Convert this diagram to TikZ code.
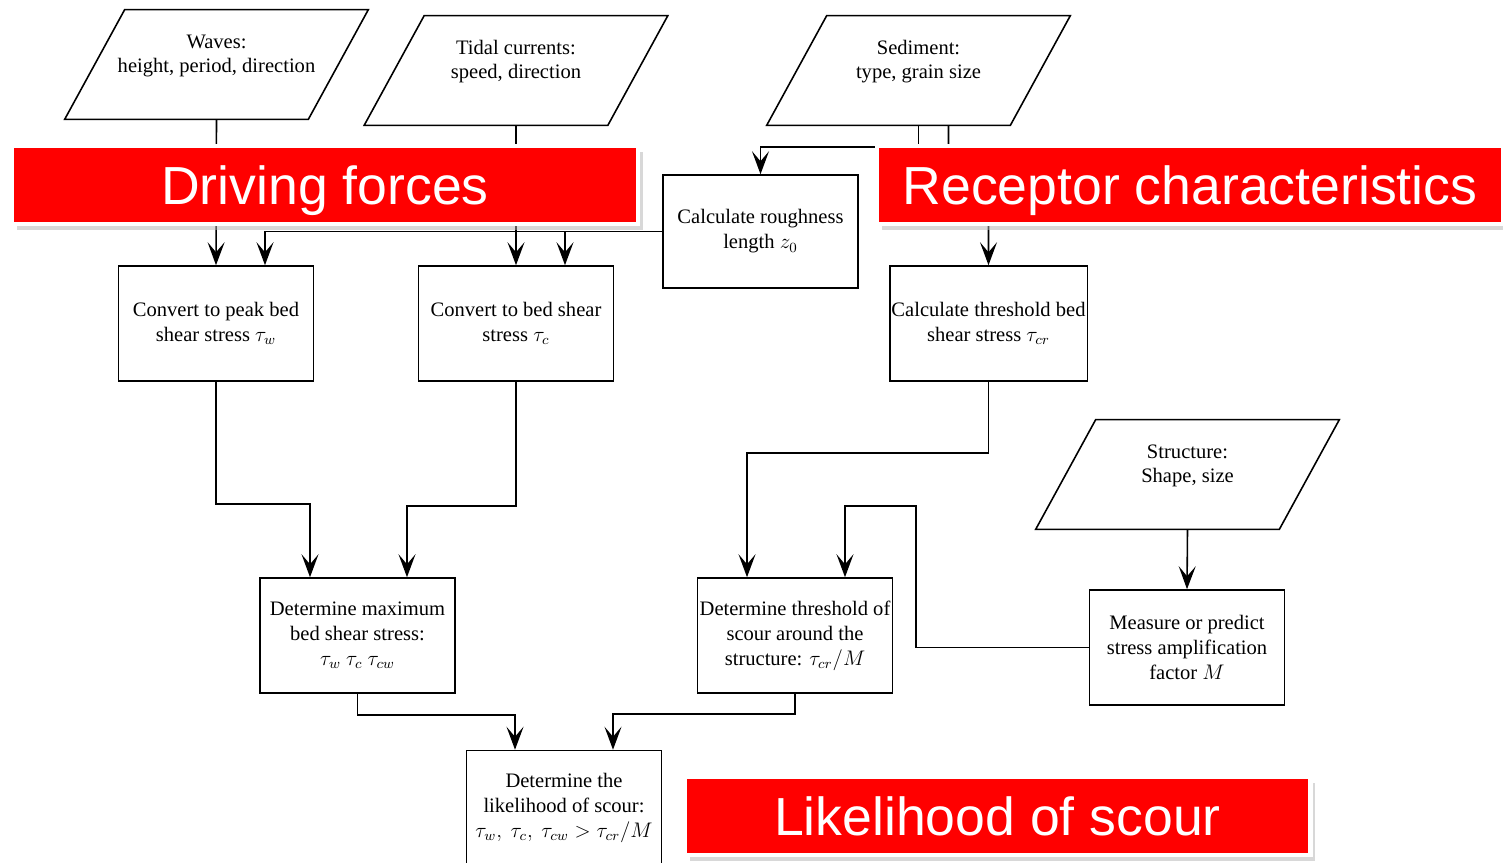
\documentclass[tikz,border=0pt]{standalone}
\usepackage{fontspec}
\setmainfont{Liberation Serif}
\newfontfamily\bannerfont{Liberation Sans}
\usetikzlibrary{arrows.meta,shadows}

\tikzset{
  box/.style={draw, line width=0.9pt, minimum width=3.9cm, minimum height=2.3cm, align=center, inner sep=1pt, font=\fontsize{11.7}{14.2}\selectfont},
  input/.style={minimum width=4.86cm, minimum height=2.18cm},
  inlabel/.style={align=center, yshift=0.17cm, font=\fontsize{11.7}{13.7}\selectfont},
  outline/.style={line width=0.9pt},
  flow/.style={line width=0.9pt, -{Stealth[length=4.6mm,width=3.4mm,inset=2mm]}},
  banner/.style={fill=red, draw=white, line width=2.5pt, minimum width=12.52cm, minimum height=1.56cm, text=white, text height=22pt, text depth=0pt, font=\bannerfont\fontsize{30.5}{36}\selectfont, drop shadow={shadow xshift=0.1cm, shadow yshift=-0.12cm, fill=black!30}}
}

\begin{document}
\begin{tikzpicture}[x=0.02cm, y=-0.02cm]
    \useasboundingbox (0,0) rectangle (1503,862);

    % Inputs
    \node[input, label={[inlabel]center:Waves:\\height, period, direction}] (waves) at (216.5,64.5) {};
    \node[input, label={[inlabel]center:Tidal currents:\\speed, direction}] (tidal) at (516,70.5) {};
    \node[input, label={[inlabel]center:Sediment:\\type, grain size}] (sediment) at (918.5,70.5) {};
    \node[input, label={[inlabel]center:Structure:\\Shape, size}] (structure) at (1187.5,474.5) {};
    \foreach \n in {waves,tidal,sediment,structure}
        \draw[outline] ([xshift=-0.6cm]\n.south west) -- ([xshift=-0.6cm]\n.south east)
            -- ([xshift=0.6cm]\n.north east) -- ([xshift=0.6cm]\n.north west) -- cycle;

    % Processing boxes
    \node[box] (peak) at (216,323.5) {Convert to peak bed\\shear stress $\tau_w$};
    \node[box] (bedshear) at (516,323.5) {Convert to bed shear\\stress $\tau_c$};
    \node[box, minimum height=2.26cm] (rough) at (760.5,231.5) {Calculate roughness\\length $z_0$};
    \node[box] (thresh) at (988.5,323.5) {Calculate threshold bed\\shear stress $\tau_{cr}$};
    \node[box] (maxstress) at (357.5,635.5) {Determine maximum\\bed shear stress:\\$\tau_w$ $\tau_c$ $\tau_{cw}$};
    \node[box] (scourthr) at (795,635.5) {Determine threshold of\\scour around the\\structure: $\tau_{cr}/M$};
    \node[box] (ampl) at (1187,647.5) {Measure or predict\\stress amplification\\factor $M$};
    \node[box] (likely) at (564,808) {Determine the\\likelihood of scour:\\$\tau_w,\ \tau_c,\ \tau_{cw} > \tau_{cr}/M$};

    % Bend points
    \coordinate (sedturn) at (918.5,147);
    \coordinate (sedjog) at (948.5,190);
    \coordinate (roughsplit) at (565,231.5);

    % Connectors
    \draw[flow] (waves.south) -- (peak.north);
    \draw[flow] (tidal.south) -- (bedshear.north);
    \draw[flow] (sediment.south) -- (sedturn) -| (rough.north);
    \draw[flow] ([xshift=0.6cm]sediment.south) -- (sedjog) -| (thresh.north);
    \draw[flow] (rough.west) -| ([xshift=0.98cm]peak.north);
    \draw[flow] (roughsplit) -- ([xshift=0.98cm]bedshear.north);
    \draw[flow] (peak.south) -- ++(0,122) -| ([xshift=-0.95cm]maxstress.north);
    \draw[flow] (bedshear.south) -- ++(0,124) -| ([xshift=0.99cm]maxstress.north);
    \draw[flow] (thresh.south) -- ++(0,71) -| ([xshift=-0.96cm]scourthr.north);
    \draw[flow] (ampl.west) -- ++(-173,0) -- ++(0,-141.5) -| ([xshift=1cm]scourthr.north);
    \draw[flow] (structure.south) -- (ampl.north);
    \draw[flow] (maxstress.south) -- ++(0,21) -| ([xshift=-0.98cm]likely.north);
    \draw[flow] (scourthr.south) -- ++(0,20) -| ([xshift=0.98cm]likely.north);

    % Banners
    \node[banner] (driving) at (325,185) {Driving forces};
    \node[banner] (receptor) at (1190,185) {Receptor characteristics};
    \node[banner] (scourbanner) at (997.5,816) {Likelihood of scour};
\end{tikzpicture}
\end{document}
